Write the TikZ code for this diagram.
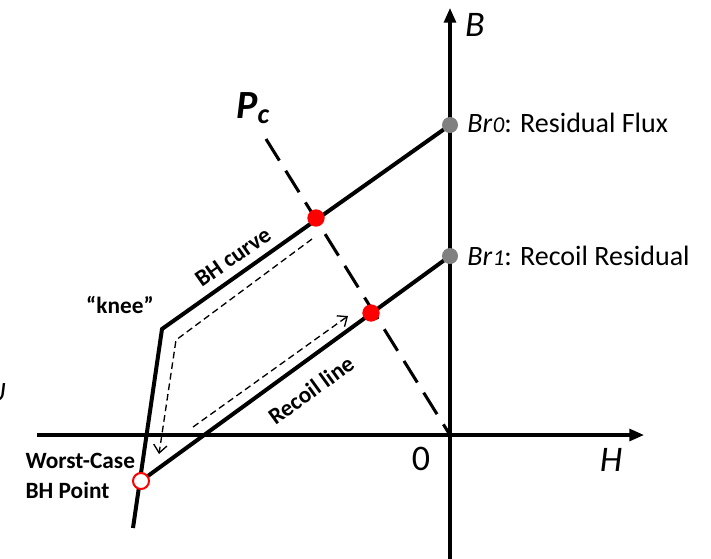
\documentclass[tikz,border=0pt]{standalone}
\usepackage{fontspec}
\setmainfont{Carlito}
\usetikzlibrary{arrows.meta}
\begin{document}
\begin{tikzpicture}[x=0.75pt,y=-0.75pt,
  axis/.style={line width=2.3pt},
  curve/.style={line width=3pt},
  pcline/.style={line width=2.3pt,dash pattern=on 19pt off 9pt},
  dasharrow/.style={line width=1pt,dash pattern=on 5pt off 3pt,-{Straight Barb[length=6pt,width=10pt,line width=1pt]}},
  reddot/.style={circle,fill=red,inner sep=0pt,minimum size=13pt},
  graydot/.style={circle,fill=gray,inner sep=0pt,minimum size=12pt},
  opendot/.style={circle,draw=red,fill=white,line width=1.5pt,inner sep=0pt,minimum size=12pt},
  boldlbl/.style={font=\fontsize{17.5}{21}\selectfont\bfseries,inner sep=1pt},
  lbl/.style={font=\fontsize{21}{25}\selectfont,inner sep=0pt},
  axlbl/.style={font=\fontsize{27}{32}\selectfont,inner sep=0pt}]
\useasboundingbox (0,0) rectangle (711,558);
% coordinates
\coordinate (O) at (450,435);
\coordinate (Btop) at (450,8);
\coordinate (Bbot) at (450,560);
\coordinate (Hleft) at (37,435);
\coordinate (Hright) at (644,435);
\coordinate (Br0c) at (450,125);
\coordinate (Br1c) at (450,256);
\coordinate (kneec) at (162,329);
\coordinate (kend) at (133,528);
\coordinate (wcc) at (141,481);
\coordinate (p1c) at (316,218);
\coordinate (p2c) at (371,313);
\coordinate (pctop) at (266,139);
\coordinate (d1) at (312,239);
\coordinate (d2) at (176,340);
\coordinate (d3) at (159,454);
\coordinate (r1) at (193,427);
\coordinate (r2) at (348,316);
% axes
\draw[axis,-{Triangle[length=11pt,width=9pt]}] (Bbot) -- (Btop);
\draw[axis,-{Triangle[length=11pt,width=9pt]}] (Hleft) -- (Hright);
% Pc line
\draw[pcline] (pctop) -- (O);
% curves
\draw[curve,line join=miter] (Br0c) -- (kneec) -- (kend);
\draw[curve] (wcc) -- (Br1c);
% dashed arrows
\draw[dasharrow] (d1) -- (d2) -- (d3);
\draw[dasharrow] (r1) -- (r2);
% dots
\node[graydot] (br0) at (Br0c) {};
\node[graydot] (br1) at (Br1c) {};
\node[reddot] (p1) at (p1c) {};
\node[reddot] (p2) at (p2c) {};
\node[opendot] (wc) at (wcc) {};
% labels
\node[axlbl] (Blbl) at (475,25) {\textit{B}};
\node[axlbl] (Hlbl) at (611,460) {\textit{H}};
\node[axlbl] (zero) at (421,459) {0};
\node[lbl,anchor=west] (br0lbl) at (467,123) {\textit{Br\kern0.5pt{\fontsize{17}{20}\selectfont 0}}:\hspace{0.3em}Residual Flux};
\node[lbl,anchor=west] (br1lbl) at (467,256) {\textit{Br\kern0.5pt{\fontsize{17}{20}\selectfont 1}}:\hspace{0.3em}Recoil Residual};
\node[font=\fontsize{30}{36}\selectfont\bfseries\itshape,inner sep=0pt] (pc) at (253,108) {P\textsubscript{c}};
\node[boldlbl,rotate=35] (bhc) at (233,257) {BH curve};
\node[boldlbl,rotate=36] (recl) at (311,390) {Recoil line};
\node[boldlbl] (knee) at (120,305) {“knee”};
\node[boldlbl,anchor=west,align=left] (wclbl) at (24,476) {Worst-Case\\[1pt]BH Point};
% cut-off fragment at left edge
\node[lbl,anchor=east] (frag) at (6,393) {\textit{U}};
\end{tikzpicture}
\end{document}
